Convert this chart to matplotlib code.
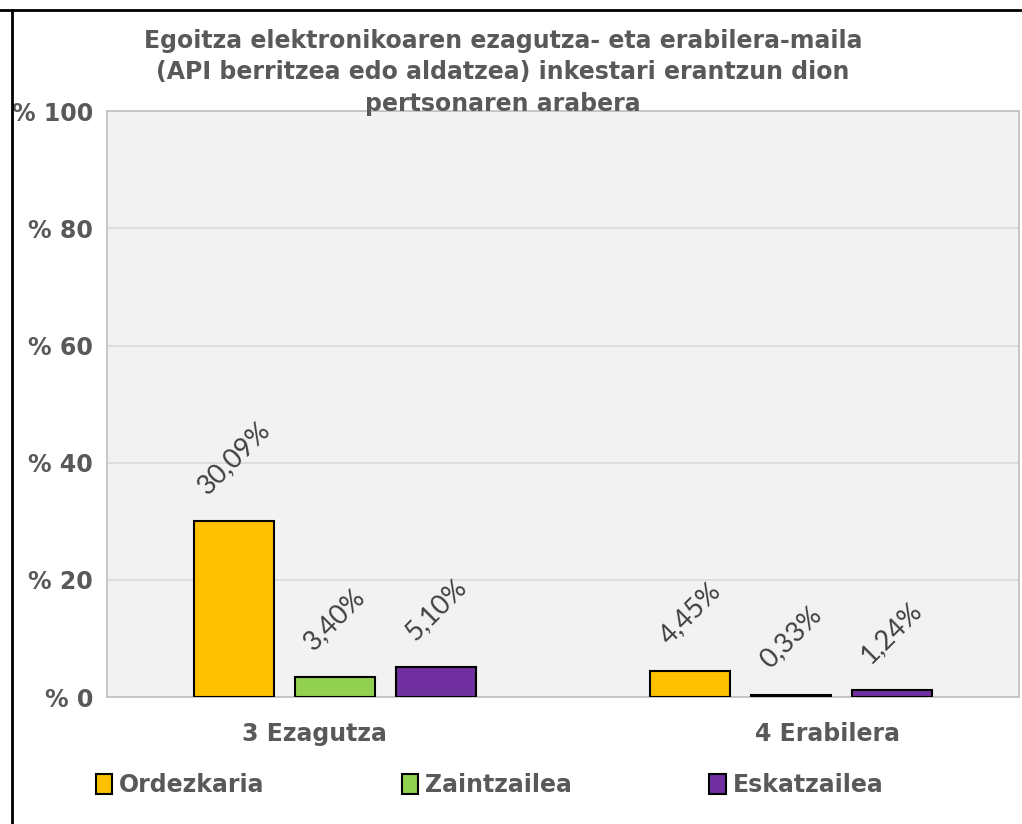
import matplotlib.pyplot as plt
import numpy as np
from matplotlib.lines import Line2D

# chart data
categories = ['3 Ezagutza', '4 Erabilera']
series_names = ['Ordezkaria', 'Zaintzailea', 'Eskatzailea']
ordezkaria = [30.09, 4.45]
zaintzailea = [3.40, 0.33]
eskatzailea = [5.10, 1.24]
y_ticks = [0, 20, 40, 60, 80, 100]
y_tick_labels = ['% 0', '% 20', '% 40', '% 60', '% 80', '% 100']
title = ('Egoitza elektronikoaren ezagutza- eta erabilera-maila\n'
         '(API berritzea edo aldatzea) inkestari erantzun dion\n'
         'pertsonaren arabera')

colors = ['#FFC000', '#92D050', '#7030A0']
gray = '#595959'

fig = plt.figure(figsize=(10.22, 8.24), dpi=100)
ax = fig.add_axes([0.1047, 0.154, 0.8923, 0.711])
ax.set_facecolor('#F2F2F2')

x = np.arange(len(categories)) + 0.5
width = 0.175
step = 0.221
values = [ordezkaria, zaintzailea, eskatzailea]
for i, (name, vals) in enumerate(zip(series_names, values)):
    pos = x + (i - 1) * step
    ax.bar(pos, vals, width, color=colors[i], edgecolor='black',
           linewidth=1.5, label=name, zorder=3)
    for px, v in zip(pos, vals):
        ax.annotate(('%.2f%%' % v).replace('.', ','), (px, v),
                    xytext=(0, 16), textcoords='offset points',
                    rotation=45, ha='center', va='bottom',
                    fontsize=19.5, color='#404040', family='Lato')

ax.set_xlim(0, 2)
ax.set_ylim(0, 100)
ax.set_yticks(y_ticks)
ax.set_yticklabels(y_tick_labels)
ax.yaxis.grid(True, color='#D9D9D9', linewidth=1.2, zorder=0)
ax.set_axisbelow(True)

# category labels (slightly off-centre, as in the original)
ax.set_xticks([0.455, 1.58])
ax.set_xticklabels(categories)
ax.tick_params(axis='both', length=0, labelsize=17, labelcolor=gray)
ax.tick_params(axis='y', pad=10)
ax.tick_params(axis='x', pad=18)
for lbl in ax.get_xticklabels() + ax.get_yticklabels():
    lbl.set_fontweight('bold')

for s in ax.spines.values():
    s.set_color('#BFBFBF')
    s.set_linewidth(1.2)

fig.text(0.492, 0.965, title, ha='center', va='top', fontsize=17,
         fontweight='bold', color=gray, linespacing=1.4)

leg = fig.legend(loc='center', bbox_to_anchor=(0.479, 0.047), ncol=3,
                 frameon=False, fontsize=17, handlelength=0.7,
                 handleheight=0.9, handletextpad=0.3, columnspacing=5.8)
for t in leg.get_texts():
    t.set_color(gray)
    t.set_fontweight('bold')

# outer chart border (partly cropped in the original)
fig.add_artist(Line2D([0.0117, 0.0117], [0, 0.988], color='black', lw=2))
fig.add_artist(Line2D([0.0, 1.0], [0.988, 0.988], color='black', lw=2))

fig.savefig('out.png', dpi=100)
